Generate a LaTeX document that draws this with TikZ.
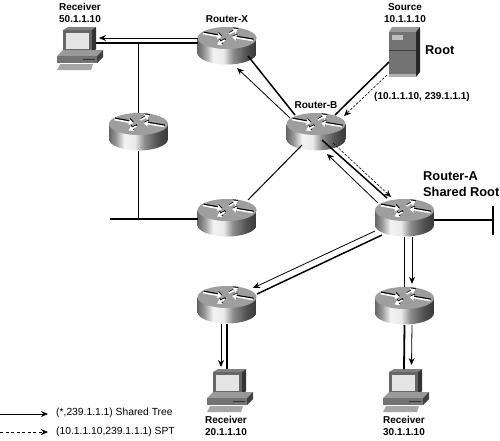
\documentclass[tikz,border=0pt]{standalone}
\usepackage{fontspec}
\setmainfont{Liberation Sans}
\usetikzlibrary{arrows.meta, calc}

\pgfdeclarehorizontalshading{routerside}{100bp}{
    color(0bp)=(black!60); color(25bp)=(black!60); color(31bp)=(black!40);
    color(38bp)=(black!5); color(47bp)=(black!8); color(55bp)=(black!45);
    color(66bp)=(black!68); color(75bp)=(black!78); color(100bp)=(black!78)}

\newcommand{\routerarrow}[4]{
    \draw[line width=1.9pt, black, -{Triangle[length=4.5pt,width=6pt]}] ($(#1,#2)+(0.5,-1)$) -- ($(#3,#4)+(0.5,-1)$);
    \draw[line width=1.6pt, white, -{Triangle[length=4.5pt,width=6pt]}] (#1,#2) -- (#3,#4);
}

\begin{document}
\begin{tikzpicture}[
    x=1pt, y=-1pt,
    router/.style={minimum width=59pt, minimum height=38pt, inner sep=0pt, path picture={
        \shade[shading=routerside] (-29.5,-8) -- (-29.5,7) arc[start angle=180, end angle=0, x radius=29.5, y radius=11.5] -- (29.5,-8) -- cycle;
        \fill[black!38] (0,-8) ellipse[x radius=29.5, y radius=11];
        \routerarrow{-24}{-12.5}{-5}{-9}
        \routerarrow{26}{-5.5}{5}{-9}
        \routerarrow{2}{-12}{11}{-17}
        \routerarrow{-2}{-6}{-10}{-1.5}
    }},
    pc/.style={minimum width=47pt, minimum height=44pt, inner sep=0pt, path picture={
        \fill[black!50] (-17,-18.5) -- (-12,-21.5) -- (16,-21.5) -- (12,-18.5) -- cycle;
        \fill[black!80] (12,-18.5) -- (16,-21.5) -- (16,0.5) -- (12,4.5) -- cycle;
        \fill[black!60] (-17,-18.5) rectangle (12,4.5);
        \fill[black!10] (-14,-15.5) rectangle (9,0.5);
        \fill[black!40] (-23,7.5) -- (-17,1.5) -- (23,1.5) -- (17,7.5) -- cycle;
        \fill[black!55] (-23,7.5) rectangle (17,14.5);
        \fill[black!75] (17,7.5) -- (23,1.5) -- (23,8.5) -- (17,14.5) -- cycle;
        \fill[black!35] (-23,21.5) -- (-20,15.5) -- (13,15.5) -- (11,21.5) -- cycle;
        \draw[black!80] (3,10.5) -- (15,10.5);
    }},
    server/.style={minimum width=31pt, minimum height=50pt, inner sep=0pt, path picture={
        \fill[black!40] (-15.5,-20) -- (-12.5,-25) -- (15.5,-25) -- (11.5,-20) -- cycle;
        \fill[black!85] (11.5,-20) -- (15.5,-25) -- (15.5,20) -- (11.5,25) -- cycle;
        \fill[black!55] (-15.5,-20) rectangle (11.5,25);
        \fill[black!25] (-12.5,-17) rectangle (-1.5,-12);
        \draw[black!75] (-15.5,-2) -- (11.5,-2);
        \fill[black!30] (-15.5,22) rectangle (11.5,25);
    }},
    tree/.style={line width=0.8pt, -{Stealth[length=7pt,width=6pt]}},
    spt/.style={line width=0.6pt, dash pattern=on 2.5pt off 1.5pt, -{Stealth[length=7pt,width=6pt]}},
    link/.style={line width=1.5pt},
    lbl/.style={font=\fontsize{10}{12}\selectfont\bfseries, align=center, inner sep=0pt},
    big/.style={font=\fontsize{12.8}{15.5}\selectfont\bfseries, align=left, inner sep=0pt},
    key/.style={font=\fontsize{10.3}{12}\selectfont, anchor=west, inner sep=0pt}
]
    \useasboundingbox (0,0) rectangle (500,440);

    \node[router] (rtX) at (227,46) {};
    \node[router] (rtL) at (138.5,132) {};
    \node[router] (rtM) at (227,218) {};
    \node[router] (rtB) at (316,132) {};
    \node[router] (rtA) at (404.5,218) {};
    \node[router] (rtC) at (227,305) {};
    \node[router] (rtD) at (404.5,306) {};
    \node[pc] (pcX) at (80,48.5) {};
    \node[pc] (pcC) at (230,390.5) {};
    \node[pc] (pcD) at (406,390.5) {};
    \node[server] (src) at (404.5,52) {};

    \node[lbl] (lblX) at (80,13) {Receiver\\50.1.1.10};
    \node[lbl] (lblRX) at (227,19) {Router-X};
    \node[lbl] (lblS) at (405,13) {Source\\10.1.1.10};
    \node[big, anchor=west] (lblRoot) at (425,50) {Root};
    \node[lbl] (lblSG) at (422,97) {(10.1.1.10, 239.1.1.1)};
    \node[lbl] (lblRB) at (316,105) {Router-B};
    \node[big, anchor=west] (lblRA) at (423,184) {Router-A\\Shared Root};
    \node[lbl] (lblC) at (226,426) {Receiver\\20.1.1.10};
    \node[lbl] (lblD) at (404,426) {Receiver\\30.1.1.10};

    \coordinate (stubL) at (110,219);
    \coordinate (stubR) at (493,220);
    \coordinate (keyA) at (0,414);
    \coordinate (keyAe) at (48,414);
    \coordinate (keyB) at (0,432);
    \coordinate (keyBe) at (48,432);
    \coordinate (barT) at (493,206);
    \coordinate (barB) at (493,235);

    \draw[link] ($(rtX)+(-29,-3)$) -- ($(pcX)+(16,-5.5)$);
    \draw[tree] ($(rtX)+(-29,-8)$) -- ($(pcX)+(19,-10.5)$);
    \draw[link] (138.5,43) -- (rtL.north);
    \draw[link] (rtL.south) -- (138.5,219);
    \draw[link] (stubL) -- ($(rtM)+(-29,1)$);
    \draw[line width=1pt] ($(rtM)+(21,-18)$) -- ($(rtB)+(-14,13)$);

    \draw[link] ($(rtB)+(-21,-17)$) -- ($(rtX)+(21,10)$);
    \draw[tree] ($(rtB)+(-26,-14)$) -- ($(rtX)+(10,22)$);
    \draw[link] ($(src)+(-15.5,10)$) -- ($(rtB)+(19,-17)$);
    \draw[spt] ($(src)+(-17.5,23)$) -- ($(rtB)+(28,-16)$);

    \draw[link] ($(rtB)+(6,8)$) -- ($(rtA)+(-17.5,-20)$);
    \draw[tree] ($(rtA)+(-26.5,-15)$) -- ($(rtB)+(11,22)$);
    \draw[spt] ($(rtB)+(17,11)$) -- ($(rtA)+(-13.5,-21)$);

    \draw[link] (rtA.east |- stubR) -- (stubR);
    \draw[line width=1.6pt] (barT) -- (barB);
    \draw[link] ($(rtA)+(-22.5,17)$) -- ($(rtC)+(30,-11)$);
    \draw[tree] ($(rtA)+(-29.5,13)$) -- ($(rtC)+(26,-17)$);
    \draw[line width=1.8pt] (rtA.south) -- (rtD.north);
    \draw[tree] ($(rtA.south)+(7.5,0)$) -- ($(rtD.north)+(7.5,-3)$);
    \draw[line width=1.8pt] (rtD.south) -- ($(pcD)+(-2,-21.5)$);
    \draw[tree] ($(rtD.south)+(7.5,0)$) -- ($(pcD)+(5.5,-25.5)$);
    \draw[link] (rtC.south) -- ($(pcC)+(-3,-21.5)$);
    \draw[tree] ($(rtC.south)+(-6,0)$) -- ($(pcC)+(-9,-23.5)$);

    \draw[tree] (keyA) -- (keyAe);
    \draw[spt, dash pattern=on 3pt off 2.5pt] (keyB) -- (keyBe);
    \node[key] (keyTxtA) at (56,413) {(*,239.1.1.1) Shared Tree};
    \node[key] (keyTxtB) at (56,432) {(10.1.1.10,239.1.1.1) SPT};
\end{tikzpicture}
\end{document}
